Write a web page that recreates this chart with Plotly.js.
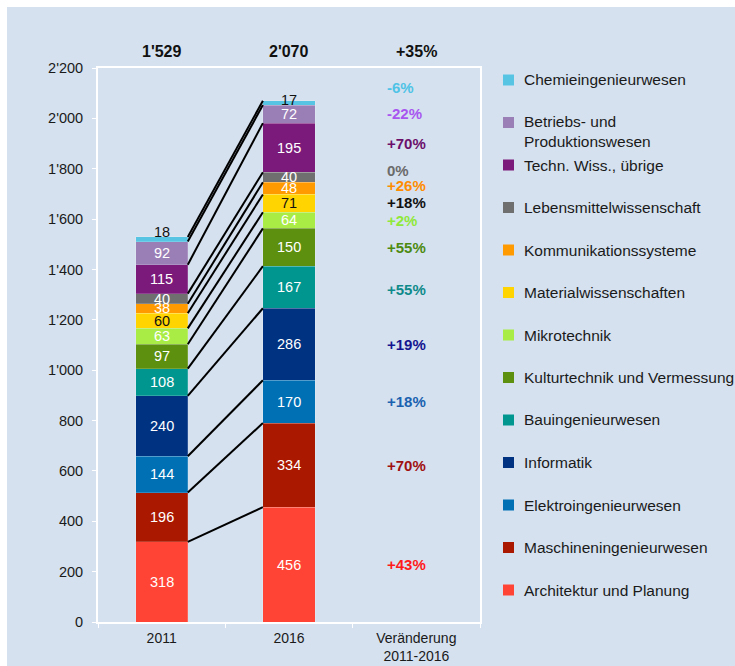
<!DOCTYPE html>
<html>
<head>
<meta charset="utf-8">
<script src="https://cdn.plot.ly/plotly-3.0.1.min.js"></script>
<style>html,body{margin:0;padding:0;background:#fff;}#chart{width:735px;height:666px;}</style>
</head>
<body>
<div id="chart"></div>
<script>
// ---------- DATA (stack order: bottom -> top) ----------
const series = [
  'Architektur und Planung',
  'Maschineningenieurwesen',
  'Elektroingenieurwesen',
  'Informatik',
  'Bauingenieurwesen',
  'Kulturtechnik und Vermessung',
  'Mikrotechnik',
  'Materialwissenschaften',
  'Kommunikationssysteme',
  'Lebensmittelwissenschaft',
  'Techn. Wiss., übrige',
  'Betriebs- und<br>Produktionswesen',
  'Chemieingenieurwesen'
];
const values2011 = [318, 196, 144, 240, 108, 97, 63, 60, 38, 40, 115, 92, 18];
const values2016 = [456, 334, 170, 286, 167, 150, 64, 71, 48, 40, 195, 72, 17];
const changeLabels = ['+43%', '+70%', '+18%', '+19%', '+55%', '+55%', '+2%', '+18%', '+26%', '0%', '+70%', '-22%', '-6%'];
const totalLabels = ["1'529", "2'070", "+35%"];
const xTickLabels = ['2011', '2016', 'Veränderung<br>2011-2016'];
const yTickVals = [0, 200, 400, 600, 800, 1000, 1200, 1400, 1600, 1800, 2000, 2200];
const yTickText = ['0', '200', '400', '600', '800', "1'000", "1'200", "1'400", "1'600", "1'800", "2'000", "2'200"];

// ---------- STYLE ----------
const segColors = ['#ff4435', '#aa1800', '#0070b5', '#003282', '#009690', '#5c900e', '#a9ec45',
                   '#ffd400', '#ff9a00', '#6f6f6f', '#7b1a7b', '#9a7eb6', '#58c4e4'];
const changeColors = ['#ff1a1a', '#a01010', '#1a62b0', '#141490', '#0f8a8a', '#4d8a0f', '#8fe83a',
                      '#111111', '#ff8c00', '#6b6b6b', '#6b0f6b', '#a855f0', '#4fc3e6'];
const labelColors = ['#fff', '#fff', '#fff', '#fff', '#fff', '#fff', '#fff',
                     '#111', '#fff', '#fff', '#fff', '#fff', '#111'];
const changeNudge = [0, 0, 0, 0, -2, 0, 0, 1, 3, 7, 4, 1, 15];
const topLabelNudge = [7, 3];
const FONT = 'Liberation Sans, Arial, Helvetica, sans-serif';
const TXT = '#1a1a1a';
const BG = '#d5e1ef';
const BARW = 0.41;

// plot area in pixels
const L = 98, R = 255, T = 68, B = 44, W = 735 - L - R, H = 666 - T - B;
const px = x => (x - L) / W;
const py = y => (T + H - y) / H;

const traces = [];
const annotations = [];
const shapes = [];

// background panel
shapes.push({type: 'rect', xref: 'paper', yref: 'paper', layer: 'below',
  x0: px(7), x1: px(745), y0: py(676), y1: py(7), fillcolor: BG, line: {width: 0}});

// stacked bars
const cum2011 = [], cum2016 = [];
let c1 = 0, c2 = 0;
series.forEach((name, i) => {
  traces.push({
    type: 'bar', name: name, x: [0, 1], y: [values2011[i], values2016[i]], width: BARW,
    marker: {color: segColors[i], line: {width: 0.5, color: 'rgba(255,255,255,0.35)'}},
    showlegend: false, hoverinfo: 'skip'
  });
  const mids = [c1 + values2011[i] / 2, c2 + values2016[i] / 2];
  c1 += values2011[i]; c2 += values2016[i];
  cum2011.push(c1); cum2016.push(c2);
  const isTop = i === series.length - 1;
  [values2011[i], values2016[i]].forEach((v, j) => {
    annotations.push({x: j, y: mids[j], xref: 'x', yref: 'y', text: String(v), showarrow: false,
      yshift: isTop ? topLabelNudge[j] : 0,
      font: {family: FONT, size: 14.5, color: labelColors[i]}});
  });
  // change label
  annotations.push({x: 1.755, y: mids[1], xref: 'x', yref: 'y', xanchor: 'left', text: changeLabels[i],
    showarrow: false, yshift: changeNudge[i],
    font: {family: FONT, size: 15, weight: 'bold', color: changeColors[i]}});
});

// connecting lines
const lx = [], ly = [];
series.forEach((_, i) => {
  lx.push(BARW / 2, 1 - BARW / 2, null);
  ly.push(cum2011[i], cum2016[i], null);
});
traces.push({type: 'scatter', mode: 'lines', x: lx, y: ly, line: {color: '#000', width: 2},
  showlegend: false, hoverinfo: 'skip', connectgaps: false});

// totals above plot
totalLabels.forEach((t, j) => {
  annotations.push({x: j, xref: 'x', y: 1, yref: 'paper', yanchor: 'middle', yshift: 17,
    text: t, showarrow: false, font: {family: FONT, size: 16, weight: 'bold', color: '#111'}});
});

// legend (top -> bottom = reversed stack order)
const legendTop = 80, legendStep = 42.5;
series.slice().reverse().forEach((name, k) => {
  const idx = series.length - 1 - k;
  const cy = legendTop + k * legendStep;
  shapes.push({type: 'rect', xref: 'paper', yref: 'paper', x0: px(503), x1: px(514),
    y0: py(cy + 5.5), y1: py(cy - 5.5), fillcolor: segColors[idx], line: {width: 0}});
  const multi = name.indexOf('<br>') >= 0;
  annotations.push({x: px(522), xref: 'paper', y: py(cy), yref: 'paper', xanchor: 'left',
    yanchor: multi ? 'top' : 'middle', yshift: multi ? 11 : 0, align: 'left',
    text: name, showarrow: false, font: {family: FONT, size: 15.5, color: TXT}});
});

const layout = {
  width: 735, height: 666,
  margin: {l: L, r: R, t: T, b: B, pad: 0},
  paper_bgcolor: '#ffffff', plot_bgcolor: 'rgba(0,0,0,0)',
  barmode: 'stack', showlegend: false,
  font: {family: FONT, color: TXT},
  xaxis: {
    type: 'linear', range: [-0.5, 2.5], fixedrange: true,
    tickmode: 'array', tickvals: [0, 1, 2], ticktext: xTickLabels,
    ticks: '', ticklabelstandoff: 2,
    minor: {tickmode: 'array', tickvals: [-0.5, 0.5, 1.5, 2.5], ticks: 'outside', ticklen: 4, tickcolor: '#ffffff', tickwidth: 1},
    showgrid: false, zeroline: false,
    showline: true, mirror: true, linecolor: '#ffffff', linewidth: 2,
    tickfont: {family: FONT, size: 14, color: TXT}
  },
  yaxis: {
    range: [0, 2200], fixedrange: true,
    tickmode: 'array', tickvals: yTickVals, ticktext: yTickText,
    ticks: 'outside', ticklen: 4, tickcolor: '#ffffff', tickwidth: 1, ticklabelstandoff: 6,
    showgrid: false, zeroline: false,
    showline: true, mirror: true, linecolor: '#ffffff', linewidth: 2,
    tickfont: {family: FONT, size: 14.5, color: TXT}
  },
  shapes: shapes,
  annotations: annotations
};

Plotly.newPlot('chart', traces, layout, {displayModeBar: false, staticPlot: true});
</script>
</body>
</html>
